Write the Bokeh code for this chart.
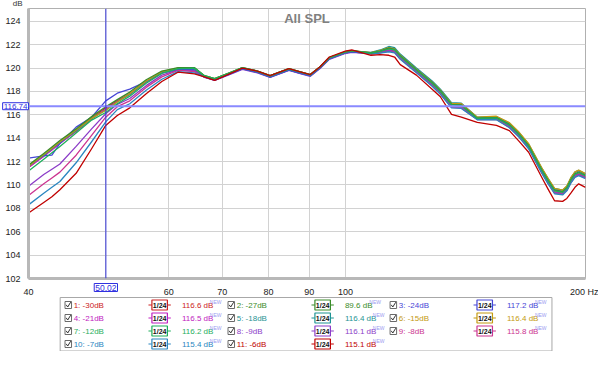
from bokeh.plotting import figure
from bokeh.models import Range1d, FixedTicker, Span, Label, ColumnDataSource
from bokeh.layouts import column
from bokeh.embed import file_html
from bokeh.resources import INLINE
from bokeh.core.properties import value

FONT = "Liberation Sans"

# ---------------- data ----------------
freq_hz = [40, 41.8, 42.8, 43.8, 45.9, 48.0, 50.0, 51.7, 53.6, 56.2, 58.8, 61.6, 64.6,
           66.5, 68.5, 71.5, 74.2, 77.5, 80.4, 84.9, 87.5, 90.3, 92.8, 95.4, 99.9, 101.8,
           107.6, 110.5, 113.3, 115.2, 117.1, 122.7, 128.4, 131.5, 135.8, 139.7, 146.3, 154.6,
           160.5, 165.0, 169.7, 176.1, 179.5, 182.9, 187.2, 189.5, 191.7, 194.0, 196.1, 200]

spl_1 = [111.5, 112.5, 113.05, 113.6, 114.6, 115.7, 116.6, 117.2, 117.8, 118.85, 119.65, 119.95, 119.9,
         119.3, 119.05, 119.55, 120.0, 119.7, 119.3, 119.9, 119.65, 119.4, 120.05, 120.85, 121.35, 121.45,
         121.26, 121.37, 121.55, 121.45, 120.9, 119.73, 118.6, 117.9, 116.75, 116.7, 115.65, 115.67,
         115.03, 114.23, 113.23, 111.2, 110.25, 109.4, 109.28, 109.63, 110.3, 110.8, 110.95, 110.68]
spl_2 = [111.7, 112.7, 113.25, 113.8, 114.8, 115.85, 116.7, 117.3, 117.95, 119.0, 119.75, 120.05, 120.05,
         119.35, 119.1, 119.6, 120.05, 119.75, 119.35, 119.95, 119.7, 119.45, 120.1, 120.9, 121.4, 121.5,
         121.3, 121.46, 121.7, 121.6, 121.05, 119.87, 118.75, 118.05, 116.9, 116.85, 115.72, 115.76,
         115.17, 114.37, 113.37, 111.35, 110.4, 109.55, 109.42, 109.77, 110.45, 110.95, 111.1, 110.82]
spl_3 = [112.3, 112.5, 112.55, 113.55, 114.95, 115.8, 117.2, 117.85, 118.2, 118.85, 119.6, 119.9, 119.9,
         119.23, 118.98, 119.48, 119.93, 119.63, 119.23, 119.83, 119.58, 119.33, 119.98, 120.78, 121.3, 121.4,
         121.32, 121.49, 121.75, 121.65, 121.1, 119.91, 118.8, 118.1, 116.95, 116.9, 115.75, 115.79,
         115.21, 114.41, 113.41, 111.4, 110.45, 109.6, 109.46, 109.81, 110.55, 111.08, 111.22, 110.92]
spl_4 = [111.5, 112.45, 113.0, 113.55, 114.6, 115.65, 116.5, 117.15, 117.75, 118.8, 119.6, 119.85, 119.8,
         119.25, 119.0, 119.5, 119.95, 119.65, 119.25, 119.85, 119.6, 119.35, 120.0, 120.8, 121.3, 121.4,
         121.25, 121.35, 121.53, 121.43, 120.88, 119.71, 118.58, 117.88, 116.73, 116.68, 115.64, 115.65,
         115.01, 114.21, 113.21, 111.18, 110.23, 109.38, 109.26, 109.61, 110.28, 110.78, 110.93, 110.66]
spl_5 = [111.6, 112.55, 113.1, 113.65, 114.65, 115.7, 116.4, 117.1, 117.75, 118.85, 119.65, 119.95, 119.95,
         119.3, 119.05, 119.55, 120.0, 119.7, 119.3, 119.9, 119.65, 119.4, 120.05, 120.85, 121.35, 121.45,
         121.35, 121.55, 121.85, 121.75, 121.2, 120.0, 118.9, 118.2, 117.05, 117.0, 115.8, 115.85,
         115.3, 114.5, 113.5, 111.5, 110.55, 109.7, 109.55, 109.9, 110.6, 111.1, 111.25, 110.95]
spl_6 = [111.6, 112.6, 113.15, 113.7, 114.7, 115.7, 116.4, 117.1, 117.8, 118.9, 119.7, 120.0, 120.0,
         119.35, 119.1, 119.6, 120.05, 119.75, 119.35, 119.95, 119.7, 119.45, 120.1, 120.9, 121.4, 121.5,
         121.32, 121.49, 121.75, 121.65, 121.1, 119.91, 118.8, 118.1, 116.95, 116.95, 115.8, 115.88,
         115.33, 114.53, 113.53, 111.52, 110.57, 109.72, 109.57, 109.92, 110.62, 111.12, 111.27, 110.97]
spl_7 = [111.2, 112.2, 112.75, 113.3, 114.45, 115.55, 116.2, 116.95, 117.6, 118.7, 119.55, 119.95, 120.0,
         119.35, 119.1, 119.6, 120.05, 119.75, 119.35, 119.95, 119.7, 119.45, 120.1, 120.9, 121.4, 121.5,
         121.29, 121.43, 121.65, 121.55, 121.0, 119.82, 118.7, 118.0, 116.85, 116.8, 115.7, 115.73,
         115.12, 114.32, 113.32, 111.3, 110.35, 109.5, 109.37, 109.72, 110.4, 110.9, 111.05, 110.77]
spl_8 = [109.9, 110.9, 111.35, 111.8, 113.3, 114.8, 116.1, 116.9, 117.4, 118.5, 119.4, 119.85, 119.8,
         119.2, 118.95, 119.45, 119.9, 119.6, 119.2, 119.8, 119.55, 119.3, 119.95, 120.75, 121.25, 121.35,
         121.25, 121.34, 121.5, 121.4, 120.85, 119.69, 118.55, 117.85, 116.7, 116.65, 115.63, 115.64,
         114.99, 114.19, 113.19, 111.15, 110.2, 109.35, 109.24, 109.59, 110.25, 110.75, 110.9, 110.64]
spl_9 = [109.1, 110.1, 110.6, 111.1, 112.55, 114.25, 115.8, 116.7, 117.2, 118.35, 119.25, 119.8, 119.7,
         119.25, 119.0, 119.5, 119.95, 119.65, 119.25, 119.85, 119.6, 119.35, 120.0, 120.8, 121.3, 121.4,
         121.23, 121.31, 121.45, 121.35, 120.8, 119.64, 118.5, 117.8, 116.65, 116.6, 115.6, 115.61,
         114.94, 114.14, 113.14, 111.1, 110.15, 109.3, 109.19, 109.54, 110.2, 110.7, 110.85, 110.59]
spl_10 = [108.3, 109.3, 109.8, 110.3, 111.9, 113.7, 115.4, 116.45, 116.95, 118.1, 119.05, 119.7, 119.6,
          119.25, 119.0, 119.5, 119.95, 119.65, 119.25, 119.85, 119.6, 119.35, 120.0, 120.8, 121.3, 121.4,
          121.22, 121.28, 121.4, 121.3, 120.75, 119.6, 118.45, 117.75, 116.6, 116.55, 115.58, 115.58,
          114.9, 114.1, 113.1, 111.05, 110.1, 109.25, 109.15, 109.5, 110.15, 110.65, 110.8, 110.55]
spl_11 = [107.6, 108.5, 109.0, 109.6, 111.0, 113.1, 115.1, 115.95, 116.6, 117.8, 118.85, 119.65, 119.5,
          119.25, 118.95, 119.5, 120.0, 119.75, 119.35, 119.95, 119.7, 119.45, 120.1, 120.95, 121.45, 121.55,
          121.1, 121.15, 121.1, 120.95, 120.3, 119.4, 118.2, 117.55, 116.05, 115.8, 115.35, 115.1,
          114.65, 113.75, 112.8, 110.7, 109.65, 108.65, 108.6, 108.85, 109.3, 109.8, 110.1, 109.8]

series_names = ["1: -30dB", "2: -27dB", "3: -24dB", "4: -21dB", "5: -18dB", "6: -15dB",
                "7: -12dB", "8: -9dB", "9: -8dB", "10: -7dB", "11: -6dB"]
cursor_values = ["116.6 dB", "89.6 dB", "117.2 dB", "116.5 dB", "116.4 dB", "116.4 dB",
                 "116.2 dB", "116.1 dB", "115.8 dB", "115.4 dB", "115.1 dB"]
series_colors = ["#cc2222", "#3a8c2a", "#4646d6", "#c020c0", "#1f9494", "#c49a10",
                 "#1fae5c", "#8c3cc8", "#cc3490", "#2a86c0", "#c00000"]
all_spl = [spl_1, spl_2, spl_3, spl_4, spl_5, spl_6, spl_7, spl_8, spl_9, spl_10, spl_11]

x_ticks = [40, 50, 60, 70, 80, 90, 100, 200]
x_tick_labels = ["40", "", "60", "70", "80", "90", "100", "200 Hz"]
y_ticks = [102, 104, 106, 108, 110, 112, 114, 116, 118, 120, 122, 124]
cursor_freq = 50.02
cursor_level = 116.74

# ---------------- main plot ----------------
p = figure(width=598, height=307, x_axis_type="log",
           x_range=Range1d(40, 200), y_range=Range1d(102, 125.1),
           output_backend="svg", toolbar_location=None,
           min_border_left=28, min_border_right=13, min_border_top=8, min_border_bottom=12)
p.background_fill_color = "white"
p.border_fill_color = "white"
p.outline_line_color = "#b0b0b0"
p.outline_line_width = 1

for ax in (p.xaxis, p.yaxis):
    ax.axis_line_color = "#b8b8b8"
    ax.axis_line_width = 3
    ax.major_tick_line_color = None
    ax.minor_tick_line_color = None
    ax.major_label_text_font = FONT
    ax.major_label_text_font_size = "9px"
    ax.major_label_text_color = "#222222"
    ax.major_label_standoff = 2

p.xaxis.ticker = FixedTicker(ticks=x_ticks)
p.xaxis.major_label_overrides = {t: lab for t, lab in zip(x_ticks, x_tick_labels)}
p.yaxis.ticker = FixedTicker(ticks=y_ticks)
p.xgrid.ticker = FixedTicker(ticks=x_ticks[1:-1])
p.ygrid.ticker = FixedTicker(ticks=y_ticks[1:])
p.grid.grid_line_color = "#d2d2d2"
p.grid.grid_line_width = 1

order = [0, 3, 7, 8, 9, 2, 4, 5, 1, 6, 10]
for i in order:
    p.line(freq_hz, all_spl[i], line_color=series_colors[i], line_width=1.3, line_join="round")

p.add_layout(Span(location=cursor_level, dimension="width", line_color="#8a8aff", line_width=2))
p.add_layout(Span(location=cursor_freq, dimension="height", line_color="#3434d8", line_width=1))

p.add_layout(Label(x=89.44, y=125.1, y_offset=-2, text="All SPL", text_align="center",
                   text_baseline="top", text_font=FONT, text_font_size="13px",
                   text_font_style="bold", text_color="#808080"))
# texts outside the frame live in side panels so that they are not clipped
p.add_layout(Label(x=40, y=125.1, x_offset=-6, y_offset=1, text="dB", text_align="right",
                   text_baseline="bottom", text_font=FONT, text_font_size="8px",
                   text_color="#333333"), "right")
p.add_layout(Label(x=40, y=cursor_level, x_offset=0, text="%.2f" % cursor_level, text_align="right",
                   text_baseline="middle", text_font=FONT, text_font_size="8px", text_color="#3030e0",
                   border_line_color="#3030e0", border_line_width=1, background_fill_color="white",
                   padding=1), "above")
p.add_layout(Label(x=cursor_freq, y=102, y_offset=-5, text="%.2f" % cursor_freq, text_align="center",
                   text_baseline="top", text_font=FONT, text_font_size="8.5px", text_color="#3030e0",
                   border_line_color="#3030e0", border_line_width=1, background_fill_color="white",
                   padding=1), "below")

# ---------------- legend panel ----------------
leg = figure(width=598, height=55, x_range=Range1d(0, 598), y_range=Range1d(55, 0),
             output_backend="svg", toolbar_location=None,
             x_axis_location=None, y_axis_location=None,
             min_border_left=0, min_border_right=0, min_border_top=0, min_border_bottom=0)
leg.outline_line_color = None
leg.grid.visible = False
leg.background_fill_color = "white"
leg.border_fill_color = "white"
leg.margin = (-11, 0, 0, 0)

leg.quad(left=34, right=562, top=1, bottom=54.5, fill_color="white", line_color="#a8a8a8", line_width=1)

col_off = [0, 175, 349]
row_y = [8.5, 21.5, 34.5, 47.5]
cb_x, cb_y, lab_x, lab_t, lab_c = [], [], [], [], []
ic_x, val_x, val_t, new_x = [], [], [], []
ck_xs, ck_ys, stub_xs, stub_ys, stub_c = [], [], [], [], []
for k in range(11):
    r, c = divmod(k, 3)
    ox = col_off[c]
    y = row_y[r]
    cx = 42.7 + ox
    cb_x.append(cx); cb_y.append(y)
    ck_xs.append([cx - 2.3, cx - 0.6, cx + 2.6]); ck_ys.append([y - 0.2, y + 2.0, y - 2.8])
    lab_x.append(48.5 + ox); lab_t.append(series_names[k]); lab_c.append(series_colors[k])
    icx = 140.8 + ox
    ic_x.append(icx)
    stub_xs += [[icx - 12, icx - 8.3], [icx + 8.3, icx + 12]]
    stub_ys += [[y, y], [y, y]]
    stub_c += [series_colors[k], series_colors[k]]
    val_x.append(164.7 + ox); val_t.append(cursor_values[k])
    new_x.append(164.7 + ox + 3.75 * len(cursor_values[k]))

src = ColumnDataSource(dict(cb_x=cb_x, cb_y=cb_y, lab_x=lab_x, lab_t=lab_t, col=lab_c,
                            ic_x=ic_x, val_x=val_x, val_t=val_t, new_x=new_x,
                            icon_t=["1/24"] * 11, new_t=["NEW"] * 11, new_y=[v - 3 for v in cb_y]))
leg.rect(x="cb_x", y="cb_y", width=7, height=7, source=src, fill_color="white", line_color="#6a6a6a")
leg.multi_line(ck_xs, ck_ys, line_color="#333333", line_width=1)
leg.text(x="lab_x", y="cb_y", text="lab_t", source=src, text_color="col", text_baseline="middle",
         text_font=value(FONT), text_font_size=value("8px"))
leg.multi_line(stub_xs, stub_ys, line_color=stub_c, line_width=1.2)
leg.rect(x="ic_x", y="cb_y", width=16.6, height=10, source=src, fill_color="white",
         line_color="col", line_width=1.2)
leg.text(x="ic_x", y="cb_y", text="icon_t", source=src, text_color="#111111", text_align="center",
         text_baseline="middle", text_font=value(FONT), text_font_size=value("7px"),
         text_font_style="bold")
leg.text(x="val_x", y="cb_y", text="val_t", source=src, text_color="col", text_baseline="middle",
         text_font=value(FONT), text_font_size=value("8px"))
leg.text(x="new_x", y="new_y", text="new_t", source=src, text_color="#9a9af0", text_baseline="middle",
         text_font=value(FONT), text_font_size=value("5px"))

layout = column(p, leg, spacing=0)
open("out.html", "w").write(file_html(layout, INLINE))
